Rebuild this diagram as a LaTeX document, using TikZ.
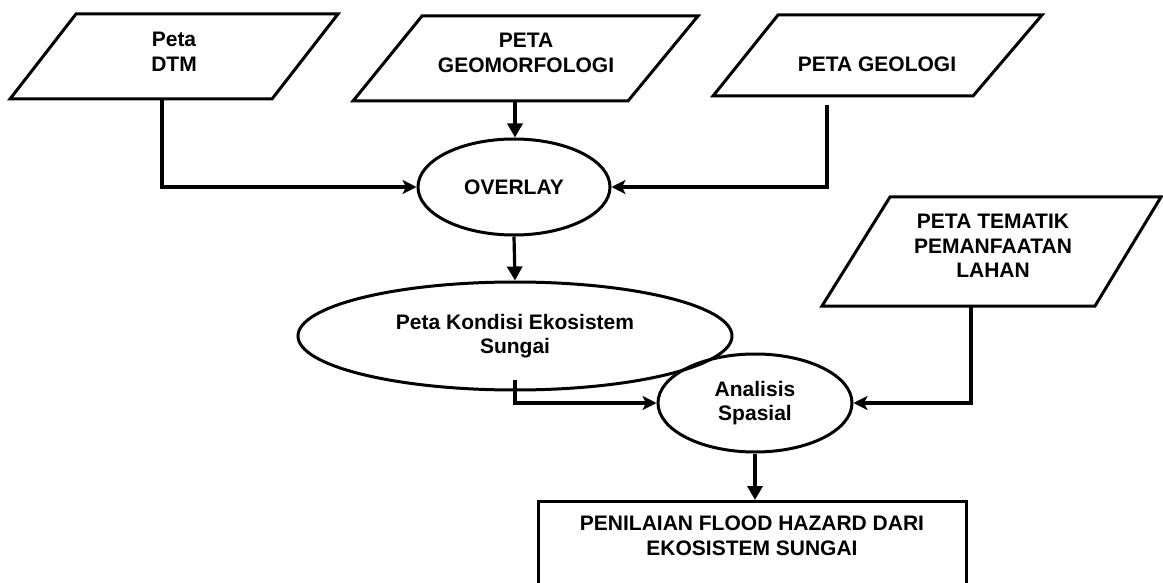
\documentclass[tikz,border=0pt]{standalone}
\usepackage{fontspec}
\setmainfont{Liberation Sans}
\usetikzlibrary{arrows.meta,shapes.geometric}
\newcommand{\mylbl}{\fontsize{21}{24.5}\selectfont\bfseries}
\begin{document}
\begin{tikzpicture}[x=1pt,y=-1pt,
  shp/.style={draw=black, line width=3pt, line join=miter},
  ell/.style={ellipse, draw=black, line width=3pt, inner sep=0pt, align=center, font=\mylbl},
  lbl/.style={align=center, font=\mylbl, inner sep=0pt},
  conn/.style={line width=3.2pt, -{Stealth[length=14pt,width=14pt,inset=3.5pt]}},
  vconn/.style={line width=3.2pt, -{Triangle[length=14pt,width=15pt]}},
]
\useasboundingbox (0,0) rectangle (1163,583);
\clip (0,0) rectangle (1163,583);

% parallelograms (inputs)
\draw[shp] (76,14) -- (338,14) -- (272,99) -- (10,99) -- cycle;
\node[lbl] (dtm) at (174,52) {Peta\\DTM};
\draw[shp] (422,16) -- (698,16) -- (628,101) -- (353,101) -- cycle;
\node[lbl] (geo) at (526,53) {PETA\\GEOMORFOLOGI};
\draw[shp] (778,15) -- (1042,15) -- (973,96) -- (713,96) -- cycle;
\node[lbl] (gel) at (877,64) {PETA GEOLOGI};
\draw[shp] (890,197) -- (1161,197) -- (1095,306) -- (822,306) -- cycle;
\node[lbl] (tem) at (993,246) {PETA TEMATIK\\PEMANFAATAN\\LAHAN};

% process ellipses
\node[ell, minimum width=192pt, minimum height=96pt] (ovl) at (514,187) {OVERLAY};
\node[ell, minimum width=434pt, minimum height=108pt] (kon) at (515,336) {Peta Kondisi Ekosistem\\Sungai};
\node[ell, minimum width=194pt, minimum height=98pt] (ana) at (755,403) {Analisis\\Spasial};

% output box
\node[draw=black, line width=3pt, minimum width=428pt, minimum height=120pt, anchor=north, inner sep=0pt] (pen) at (752,500) {};
\node[lbl] (pent) at (752,536) {PENILAIAN FLOOD HAZARD DARI\\EKOSISTEM SUNGAI};

% connector start points
\coordinate (dtmb) at (162,99);
\coordinate (geob) at (515,101);
\coordinate (gelb) at (827,105);
\coordinate (konb) at (515,380);
\coordinate (temb) at (971,306);

\draw[conn] (dtmb) |- (ovl.west);
\draw[vconn] (geob) -- (geob |- ovl.north);
\draw[conn] (gelb) |- (ovl.east);
\draw[vconn] (ovl.south) -- (kon.north);
\draw[conn] (konb) |- (ana.west);
\draw[conn] (temb) |- (ana.east);
\draw[vconn, line width=3.8pt] (ana.south) -- (ana.south |- pen.north);
\end{tikzpicture}
\end{document}
